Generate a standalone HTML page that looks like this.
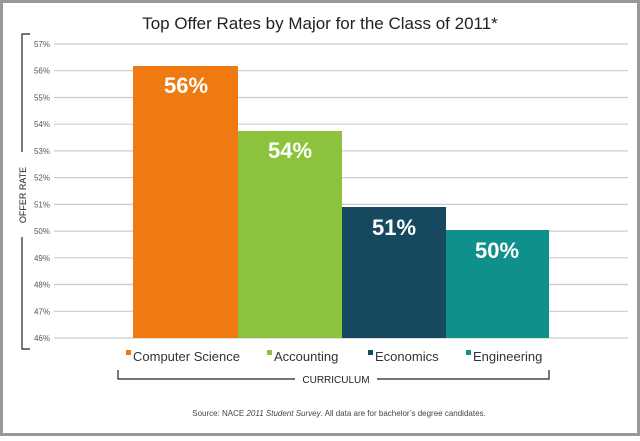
<!DOCTYPE html><html><head><style>
body{margin:0;width:640px;height:436px;background:#fff;font-family:"Liberation Sans",sans-serif;overflow:hidden}
</style></head><body>
<svg width="640" height="436" xmlns="http://www.w3.org/2000/svg" font-family="Liberation Sans, sans-serif">
<rect x="1.5" y="1.5" width="637" height="433" fill="#fff" stroke="#999" stroke-width="3"/>
<text x="320" y="29" font-size="17" text-anchor="middle" fill="#222">Top Offer Rates by Major for the Class of 2011*</text>
<g stroke="#ccc" stroke-width="1.2">
<line x1="54" x2="628" y1="44" y2="44"/><line x1="54" x2="628" y1="70.7" y2="70.7"/><line x1="54" x2="628" y1="97.5" y2="97.5"/><line x1="54" x2="628" y1="124.2" y2="124.2"/><line x1="54" x2="628" y1="150.9" y2="150.9"/><line x1="54" x2="628" y1="177.6" y2="177.6"/><line x1="54" x2="628" y1="204.4" y2="204.4"/><line x1="54" x2="628" y1="231.1" y2="231.1"/><line x1="54" x2="628" y1="257.8" y2="257.8"/><line x1="54" x2="628" y1="284.5" y2="284.5"/><line x1="54" x2="628" y1="311.3" y2="311.3"/><line x1="54" x2="628" y1="338" y2="338"/>
</g>
<g font-size="8" fill="#555" text-anchor="end">
<text x="50" y="47">57%</text><text x="50" y="73.7">56%</text><text x="50" y="100.5">55%</text><text x="50" y="127.2">54%</text><text x="50" y="153.9">53%</text><text x="50" y="180.6">52%</text><text x="50" y="207.4">51%</text><text x="50" y="234.1">50%</text><text x="50" y="260.8">49%</text><text x="50" y="287.5">48%</text><text x="50" y="314.3">47%</text><text x="50" y="341">46%</text>
</g>
<path d="M30 34 H22 V349 H30" fill="none" stroke="#222" stroke-width="1.2"/>
<rect x="16" y="152" width="12" height="85" fill="#fff"/>
<text transform="translate(26,195) rotate(-90)" font-size="9" text-anchor="middle" fill="#222">OFFER RATE</text>
<rect x="133" y="66" width="105" height="272" fill="#f07a12"/>
<rect x="238" y="131" width="104" height="207" fill="#8dc33c"/>
<rect x="342" y="207" width="104" height="131" fill="#164860"/>
<rect x="446" y="230" width="103" height="108" fill="#10908a"/>
<g font-size="22" font-weight="bold" fill="#fff" text-anchor="middle">
<text x="186" y="93">56%</text>
<text x="290" y="158">54%</text>
<text x="394" y="235">51%</text>
<text x="497" y="258">50%</text>
</g>
<g font-size="13" fill="#333">
<rect x="126" y="350" width="5" height="5" fill="#f07a12"/><text x="133" y="361">Computer Science</text>
<rect x="267" y="350" width="5" height="5" fill="#8dc33c"/><text x="274" y="361">Accounting</text>
<rect x="368" y="350" width="5" height="5" fill="#164860"/><text x="375" y="361">Economics</text>
<rect x="466" y="350" width="5" height="5" fill="#10908a"/><text x="473" y="361">Engineering</text>
</g>
<path d="M118 370 V379 H295 M377 379 H549 V370" fill="none" stroke="#222" stroke-width="1.2"/>
<text x="336" y="383" font-size="10" text-anchor="middle" fill="#222">CURRICULUM</text>
<text x="339" y="416" font-size="8" text-anchor="middle" fill="#444">Source: NACE <tspan font-style="italic">2011 Student Survey</tspan>. All data are for bachelor’s degree candidates.</text>
</svg>
</body></html>
